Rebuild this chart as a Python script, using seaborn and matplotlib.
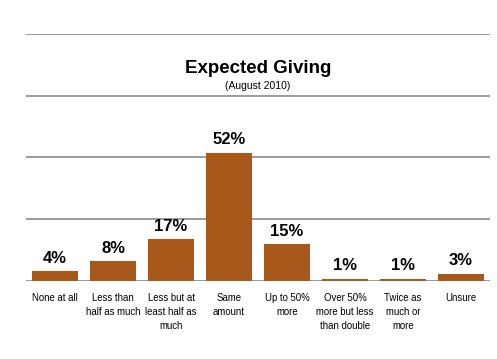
import seaborn as sns
import matplotlib.pyplot as plt
import pandas as pd

categories = ["None at all", "Less than\nhalf as much", "Less but at\nleast half as\nmuch",
              "Same\namount", "Up to 50%\nmore", "Over 50%\nmore but less\nthan double",
              "Twice as\nmuch or\nmore", "Unsure"]
values = [4, 8, 17, 52, 15, 1, 1, 3]
gridlines = [0, 25, 50, 75, 100]

sns.set_style("white")
plt.rcParams['font.family'] = ['Liberation Sans', 'DejaVu Sans']
plt.rcParams['text.color'] = 'black'

df = pd.DataFrame({"cat": categories, "pct": values})

fig = plt.figure(figsize=(4.97, 3.59), dpi=100)
ax = fig.add_axes([26/497, 78/359, 464/497, 247/359])
sns.barplot(data=df, x="cat", y="pct", color="#A9581B", saturation=1,
            width=0.78, linewidth=0, ax=ax, zorder=3)
ax.set_ylim(0, 100)
ax.set_xlim(-0.5, len(categories) - 0.5)
for g in gridlines:
    ax.axhline(g, color="#808080", lw=1.1, zorder=1)
for s in ax.spines.values():
    s.set_visible(False)
ax.set_yticks([])
ax.set_xlabel("")
ax.set_ylabel("")
ax.tick_params(axis="x", length=0, pad=8.5, labelsize=6.9, labelcolor="black")
for lab in ax.get_xticklabels():
    lab.set_linespacing(1.5)
    lab.set_verticalalignment("top")

for i, v in enumerate(values):
    ax.text(i, v + 2.2, f"{v}%", ha="center", va="bottom", color="black",
            fontsize=12, fontweight="bold", zorder=4)

ax.text(0.5, 0.862, "Expected Giving", transform=ax.transAxes, ha="center",
        va="center", fontsize=13.5, fontweight="bold", color="black")
ax.text(0.5, 0.789, "(August 2010)", transform=ax.transAxes, ha="center",
        va="center", fontsize=7.5, color="black")

fig.savefig("out.png", dpi=100)
